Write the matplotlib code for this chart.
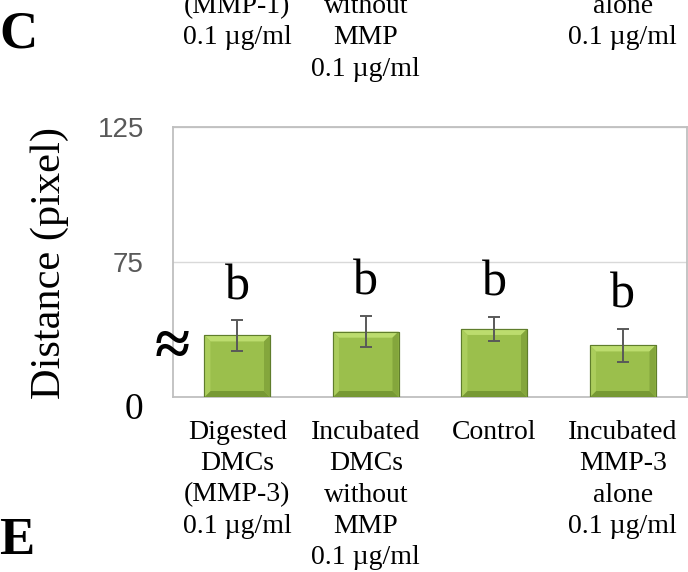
"""
Distance (pixel) per treatment, MMP-3 digestion panel.
Excel-style bevelled green bars with a broken y axis (0 .. 75 .. 125).
"""

import matplotlib
matplotlib.use("Agg")
import matplotlib.pyplot as plt
from matplotlib.patches import Polygon

# ---------------------------------------------------------------------------
# Data
# ---------------------------------------------------------------------------

categories = [
    "Digested\nDMCs\n(MMP-3)\n0.1 µg/ml",
    "Incubated\nDMCs\nwithout\nMMP\n0.1 µg/ml",
    "Control",
    "Incubated\nMMP-3\nalone\n0.1 µg/ml",
]
# bar tops / SD read on the upper (linear) part of the axis
distance = [47.8, 49.2, 50.2, 44.1]
sd = [5.6, 5.8, 4.6, 6.1]
letters = ["b", "b", "b", "b"]

y_ticks = [75, 125]
y_floor = 25          # real axis minimum, shown as "0" behind the break

# tail of the previous panel's labels, cut by the top of the figure
prev_labels = ["(MMP-1)\n0.1 µg/ml", "without\nMMP\n0.1 µg/ml", None, "alone\n0.1 µg/ml"]

# ---------------------------------------------------------------------------
# Style
# ---------------------------------------------------------------------------

SERIF = ["Liberation Serif", "DejaVu Serif"]
W, H = 688, 572

FACE = "#9bbf4c"
TOP_BEVEL = "#bcdc6e"
LEFT_BEVEL = "#abcd5c"
RIGHT_BEVEL = "#84a63c"
BOTTOM_BEVEL = "#779934"
EDGE = "#5f7d2c"


def px(x, y):
    """pixel position (from top-left) -> figure fraction"""
    return x / W, 1 - y / H


fig = plt.figure(figsize=(W / 100, H / 100), dpi=100)
ax = fig.add_axes([173 / W, 1 - 397 / H, 514 / W, 270 / H])

xs = list(range(len(categories)))
bar_w = 0.51

ax.bar(xs, [d - y_floor for d in distance], bottom=y_floor, width=bar_w,
       color=FACE, edgecolor=EDGE, linewidth=0.8, zorder=3)

# bevel faces (about 6 px deep)
bx = 6 / 128.5
by = 6 / 2.7
for x, top in zip(xs, distance):
    x0, x1, y0, y1 = x - bar_w / 2, x + bar_w / 2, y_floor, top
    faces = [
        ([(x0, y1), (x1, y1), (x1 - bx, y1 - by), (x0 + bx, y1 - by)], TOP_BEVEL),
        ([(x0, y0), (x1, y0), (x1 - bx, y0 + by), (x0 + bx, y0 + by)], BOTTOM_BEVEL),
        ([(x0, y0), (x0, y1), (x0 + bx, y1 - by), (x0 + bx, y0 + by)], LEFT_BEVEL),
        ([(x1, y0), (x1, y1), (x1 - bx, y1 - by), (x1 - bx, y0 + by)], RIGHT_BEVEL),
    ]
    for pts, c in faces:
        ax.add_patch(Polygon(pts, closed=True, facecolor=c, edgecolor="none", zorder=4))
    ax.add_patch(Polygon([(x0, y0), (x0, y1), (x1, y1), (x1, y0)], closed=True,
                         facecolor="none", edgecolor=EDGE, linewidth=0.8, zorder=5))

ax.errorbar(xs, distance, yerr=sd, fmt="none", ecolor="#595959",
            elinewidth=1.4, capsize=4, capthick=1.4, zorder=6)

for x, d, e, lt in zip(xs, distance, sd, letters):
    ax.text(x, d + e + 7.8, lt, ha="center", va="baseline",
            fontsize=36, family=SERIF, color="black")

ax.set_xlim(-0.5, len(categories) - 0.5)
ax.set_ylim(y_floor, 125)
ax.set_xticks([])
ax.set_yticks(y_ticks)
ax.set_yticklabels([str(t) for t in y_ticks], fontsize=20,
                   family="Liberation Sans", color="#595959")
ax.tick_params(axis="y", length=0, pad=21)
ax.grid(axis="y", color="#d9d9d9", linewidth=1.0, zorder=0)
for s in ax.spines.values():
    s.set_color("#bfbfbf")
    s.set_linewidth(1.3)

# fake "0" at the foot of the broken axis, and the break mark
fig.text(*px(134, 410), "0", ha="center", va="center", fontsize=27, family=SERIF)
fig.text(*px(172, 350), "≈", ha="center", va="center", fontsize=46,
         family=SERIF, fontweight="bold")

fig.text(*px(50, 263), "Distance (pixel)", rotation=90, ha="center", va="center",
         fontsize=30.5, family=SERIF)

# category labels under the bars
lab_size = 20
line_sp = 1.33
for x, lab in zip(xs, categories):
    xf = (ax.transData.transform((x, 0))[0]) / W
    fig.text(xf, 1 - 420 / H, lab, ha="center", va="top", fontsize=lab_size,
             family=SERIF, linespacing=line_sp)
    prev = prev_labels[x]
    if prev:
        fig.text(xf, 1 + 6 / H, prev, ha="center", va="top", fontsize=lab_size,
                 family=SERIF, linespacing=line_sp)

# panel letters
fig.text(*px(18, 35), "C", ha="center", va="center", fontsize=38,
         family=SERIF, fontweight="bold")
fig.text(*px(17, 541), "E", ha="center", va="center", fontsize=38,
         family=SERIF, fontweight="bold")

fig.savefig("out.png", dpi=100)
